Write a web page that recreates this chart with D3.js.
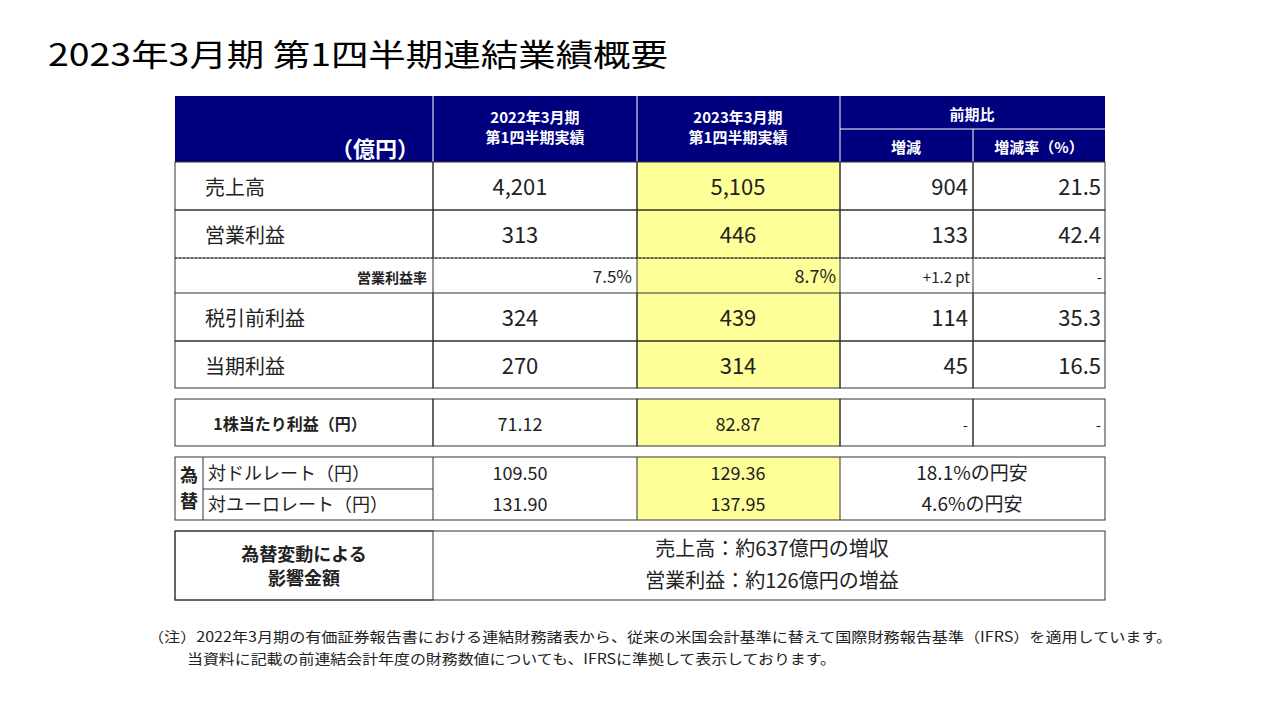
<!DOCTYPE html>
<html><head><meta charset="utf-8">
<script src="https://cdn.jsdelivr.net/npm/d3@7"></script>
<style>body{margin:0;background:#fff}svg{font-family:"Noto Sans CJK JP","Noto Sans",sans-serif}</style>
</head><body>
<svg id="c" width="1281" height="720"></svg>
<script>
// data
const items = ["売上高","営業利益","税引前利益","当期利益"]
const fy2022 = ["4,201","313","324","270"]
const fy2023 = ["5,105","446","439","314"]
const change = ["904","133","114","45"]
const changeRate = ["21.5","42.4","35.3","16.5"]
const marginRow = ["営業利益率","7.5%","8.7%","+1.2 pt","-"]
const epsRow = ["1株当たり利益（円）","71.12","82.87","-","-"]
const fxLabels = ["対ドルレート（円）","対ユーロレート（円）"]
const fx2022 = ["109.50","131.90"]
const fx2023 = ["129.36","137.95"]
const fxNote = ["18.1%の円安","4.6%の円安"]
const impactLines = ["売上高：約637億円の増収","営業利益：約126億円の増益"]

// layout
const colX = [175,433,637,840,973,1105]
const navy = "#00007f", yellow = "#ffff99"
const svg = d3.select("#c")
svg.selectAll("*").remove()

svg.append("text").attr("x",48).attr("y",66).attr("font-size",31).attr("textLength",620).attr("lengthAdjust","spacingAndGlyphs")
  .text("2023年3月期 第1四半期連結業績概要")

const g = svg.append("g")
function rect(x0,y0,x1,y1,fill){g.append("rect").attr("x",x0).attr("y",y0).attr("width",x1-x0).attr("height",y1-y0).attr("fill",fill||"none").attr("stroke","#333").attr("stroke-width",1)}
function txt(x,y,s,opts={}){g.append("text").attr("x",x).attr("y",y).attr("font-size",opts.size||20)
  .attr("text-anchor",opts.anchor||"middle").attr("fill",opts.fill||"#222").attr("font-weight",opts.bold?"bold":null).text(s)}

// header
g.append("rect").attr("x",175).attr("y",96).attr("width",930).attr("height",66).attr("fill",navy)
;[433,637,840].forEach(x=>g.append("line").attr("x1",x).attr("x2",x).attr("y1",96).attr("y2",162).attr("stroke","#fff"))
g.append("line").attr("x1",840).attr("x2",1105).attr("y1",129).attr("y2",129).attr("stroke","#fff")
g.append("line").attr("x1",973).attr("x2",973).attr("y1",129).attr("y2",162).attr("stroke","#fff")
txt(375,157,"（億円）",{size:22,fill:"#fff",bold:true})
;[["2022年3月期","第1四半期実績",535],["2023年3月期","第1四半期実績",738]].forEach(d=>{
  txt(d[2],123,d[0],{size:15,fill:"#fff",bold:true});txt(d[2],143,d[1],{size:15,fill:"#fff",bold:true})})
txt(972,120,"前期比",{size:15,fill:"#fff",bold:true})
txt(906,153,"増減",{size:15,fill:"#fff",bold:true})
txt(1039,153,"増減率（%）",{size:15,fill:"#fff",bold:true})

// main rows
const rowY = [162,210,293,341]
const cellY = d3.scaleOrdinal().domain(items).range(rowY)
g.append("rect").attr("x",637).attr("y",162).attr("width",203).attr("height",226).attr("fill",yellow)
items.forEach((it,i)=>{
  const y0=cellY(it), y1=y0+(i==3?47:48)
  colX.slice(0,-1).forEach((x,j)=>rect(x,y0,colX[j+1],y1))
  const ty=y0+33
  txt(205,ty,it,{anchor:"start",size:20})
  txt(520,ty,fy2022[i],{size:22})
  txt(738,ty,fy2023[i],{size:22})
  txt(968,ty,change[i],{anchor:"end",size:22})
  txt(1101,ty,changeRate[i],{anchor:"end",size:22})
})
// margin row
g.append("line").attr("x1",175).attr("x2",1105).attr("y1",258).attr("y2",258).attr("stroke","#333").attr("stroke-dasharray","2,2")
;[175,433,637,840,973,1105].forEach(x=>g.append("line").attr("x1",x).attr("x2",x).attr("y1",258).attr("y2",293).attr("stroke","#333"))
txt(427,283,marginRow[0],{anchor:"end",size:14,bold:true})
txt(632,283,marginRow[1],{anchor:"end",size:17})
txt(836,283,marginRow[2],{anchor:"end",size:18})
txt(970,283,marginRow[3],{anchor:"end",size:15})
txt(1102,283,marginRow[4],{anchor:"end",size:15})

// EPS
g.append("rect").attr("x",637).attr("y",399).attr("width",203).attr("height",47).attr("fill",yellow)
colX.slice(0,-1).forEach((x,j)=>rect(x,399,colX[j+1],446))
txt(290,430,epsRow[0],{size:16,bold:true})
txt(520,431,epsRow[1],{size:18})
txt(738,431,epsRow[2],{size:18})
txt(968,431,epsRow[3],{anchor:"end",size:15})
txt(1101,431,epsRow[4],{anchor:"end",size:15})

// FX
g.append("rect").attr("x",637).attr("y",457).attr("width",203).attr("height",63).attr("fill",yellow)
rect(175,457,1105,520)
;[203,433,637,840].forEach(x=>g.append("line").attr("x1",x).attr("x2",x).attr("y1",457).attr("y2",520).attr("stroke","#333"))
g.append("line").attr("x1",203).attr("x2",433).attr("y1",489).attr("y2",489).attr("stroke","#333")
txt(189,482,"為",{size:18,bold:true});txt(189,508,"替",{size:18,bold:true})
fxLabels.forEach((l,i)=>{
  const ty=480+i*31
  txt(208,ty,l,{anchor:"start",size:18})
  txt(520,ty,fx2022[i],{size:18})
  txt(738,ty,fx2023[i],{size:18})
  txt(972,ty,fxNote[i],{size:19})
})

// impact
rect(175,531,1105,600);rect(175,531,433,600)
txt(304,561,"為替変動による",{size:18,bold:true});txt(304,585,"影響金額",{size:18,bold:true})
impactLines.forEach((s,i)=>txt(772,556+i*32,s,{size:20}))

// notes
svg.append("text").attr("x",148).attr("y",642).attr("font-size",14).attr("fill","#222").attr("textLength",1024).attr("lengthAdjust","spacingAndGlyphs")
  .text("（注）2022年3月期の有価証券報告書における連結財務諸表から、従来の米国会計基準に替えて国際財務報告基準（IFRS）を適用しています。")
svg.append("text").attr("x",187).attr("y",664).attr("font-size",14).attr("fill","#222").attr("textLength",649).attr("lengthAdjust","spacingAndGlyphs")
  .text("当資料に記載の前連結会計年度の財務数値についても、IFRSに準拠して表示しております。")
</script>
</body></html>
